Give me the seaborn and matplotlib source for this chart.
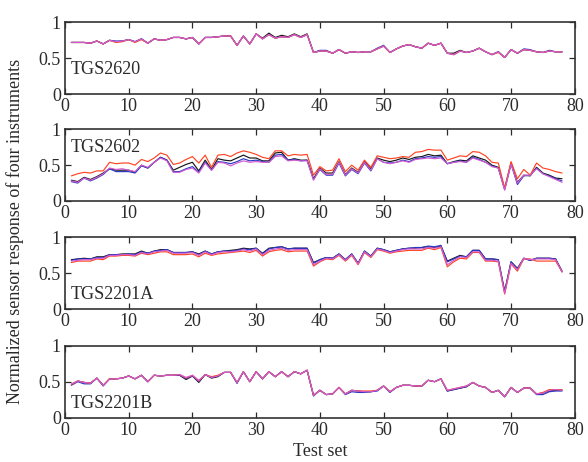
import matplotlib
matplotlib.use("Agg")
import matplotlib.pyplot as plt
import pandas as pd
import seaborn as sns

# Test set index (x axis)
test_set = list(range(1, 79))

sensors = ["TGS2620", "TGS2602", "TGS2201A", "TGS2201B"]
instruments = ["Instrument 1", "Instrument 2", "Instrument 3", "Instrument 4"]
line_colors = ["#161616", "#2b36c4", "#ff4422", "#d25ccf"]

# ---- TGS2620 ----
tgs2620_inst1 = [0.72, 0.72, 0.72, 0.71, 0.74, 0.70, 0.75, 0.73, 0.74, 0.76,
                 0.73, 0.77, 0.71, 0.77, 0.75, 0.76, 0.79, 0.79, 0.77, 0.79,
                 0.70, 0.79, 0.79, 0.80, 0.81, 0.81, 0.68, 0.81, 0.70, 0.84,
                 0.78, 0.85, 0.79, 0.82, 0.80, 0.84, 0.80, 0.84, 0.58, 0.60,
                 0.60, 0.57, 0.62, 0.57, 0.59, 0.58, 0.59, 0.59, 0.63, 0.67,
                 0.58, 0.63, 0.67, 0.69, 0.66, 0.64, 0.71, 0.68, 0.71, 0.57,
                 0.57, 0.61, 0.58, 0.60, 0.64, 0.59, 0.55, 0.59, 0.51, 0.62,
                 0.57, 0.62, 0.61, 0.59, 0.58, 0.60, 0.59, 0.59]
tgs2620_inst2 = [0.72, 0.72, 0.72, 0.71, 0.74, 0.70, 0.75, 0.74, 0.74, 0.76,
                 0.73, 0.77, 0.71, 0.77, 0.75, 0.76, 0.79, 0.79, 0.77, 0.79,
                 0.70, 0.79, 0.79, 0.80, 0.81, 0.81, 0.68, 0.81, 0.70, 0.84,
                 0.77, 0.83, 0.78, 0.80, 0.79, 0.83, 0.79, 0.83, 0.58, 0.61,
                 0.61, 0.57, 0.62, 0.57, 0.59, 0.58, 0.59, 0.59, 0.64, 0.68,
                 0.58, 0.63, 0.67, 0.69, 0.66, 0.64, 0.71, 0.68, 0.71, 0.57,
                 0.55, 0.60, 0.58, 0.60, 0.64, 0.59, 0.55, 0.59, 0.51, 0.62,
                 0.57, 0.63, 0.62, 0.59, 0.58, 0.61, 0.59, 0.59]
tgs2620_inst3 = [0.72, 0.72, 0.72, 0.71, 0.74, 0.70, 0.75, 0.72, 0.73, 0.76,
                 0.72, 0.76, 0.71, 0.77, 0.75, 0.76, 0.79, 0.79, 0.77, 0.79,
                 0.70, 0.79, 0.79, 0.80, 0.81, 0.81, 0.68, 0.81, 0.70, 0.84,
                 0.77, 0.83, 0.78, 0.80, 0.79, 0.83, 0.79, 0.83, 0.58, 0.60,
                 0.60, 0.57, 0.62, 0.57, 0.59, 0.58, 0.59, 0.59, 0.63, 0.67,
                 0.58, 0.63, 0.67, 0.69, 0.66, 0.64, 0.71, 0.68, 0.71, 0.57,
                 0.55, 0.60, 0.58, 0.60, 0.64, 0.59, 0.55, 0.58, 0.51, 0.62,
                 0.57, 0.62, 0.61, 0.59, 0.58, 0.60, 0.59, 0.59]
tgs2620_inst4 = [0.72, 0.72, 0.72, 0.71, 0.74, 0.70, 0.75, 0.73, 0.74, 0.76,
                 0.73, 0.77, 0.71, 0.77, 0.75, 0.76, 0.79, 0.79, 0.77, 0.79,
                 0.70, 0.79, 0.79, 0.80, 0.81, 0.81, 0.68, 0.81, 0.70, 0.84,
                 0.77, 0.83, 0.78, 0.80, 0.79, 0.83, 0.79, 0.83, 0.58, 0.60,
                 0.60, 0.57, 0.62, 0.57, 0.59, 0.58, 0.59, 0.59, 0.63, 0.67,
                 0.58, 0.63, 0.67, 0.69, 0.66, 0.64, 0.71, 0.68, 0.71, 0.57,
                 0.55, 0.60, 0.58, 0.60, 0.64, 0.59, 0.55, 0.59, 0.51, 0.62,
                 0.57, 0.62, 0.61, 0.59, 0.58, 0.60, 0.59, 0.59]

# ---- TGS2602 ----
tgs2602_inst1 = [0.29, 0.27, 0.33, 0.30, 0.34, 0.39, 0.45, 0.43, 0.43, 0.43,
                 0.40, 0.50, 0.46, 0.54, 0.61, 0.57, 0.43, 0.47, 0.51, 0.54,
                 0.42, 0.57, 0.44, 0.59, 0.57, 0.56, 0.60, 0.64, 0.60, 0.60,
                 0.56, 0.56, 0.67, 0.68, 0.57, 0.59, 0.57, 0.57, 0.31, 0.46,
                 0.39, 0.39, 0.55, 0.37, 0.46, 0.40, 0.55, 0.45, 0.60, 0.57,
                 0.55, 0.57, 0.60, 0.58, 0.61, 0.62, 0.65, 0.63, 0.64, 0.52,
                 0.55, 0.57, 0.56, 0.63, 0.60, 0.57, 0.50, 0.47, 0.17, 0.53,
                 0.26, 0.36, 0.35, 0.47, 0.39, 0.36, 0.32, 0.31]
tgs2602_inst2 = [0.27, 0.25, 0.32, 0.28, 0.32, 0.37, 0.45, 0.41, 0.41, 0.41,
                 0.39, 0.49, 0.46, 0.54, 0.61, 0.57, 0.41, 0.41, 0.45, 0.48,
                 0.40, 0.54, 0.43, 0.55, 0.54, 0.52, 0.55, 0.59, 0.56, 0.57,
                 0.55, 0.54, 0.64, 0.65, 0.57, 0.58, 0.56, 0.57, 0.30, 0.44,
                 0.36, 0.36, 0.53, 0.35, 0.44, 0.38, 0.53, 0.42, 0.59, 0.54,
                 0.53, 0.54, 0.57, 0.55, 0.59, 0.60, 0.62, 0.61, 0.62, 0.52,
                 0.54, 0.56, 0.54, 0.61, 0.58, 0.54, 0.49, 0.46, 0.16, 0.52,
                 0.23, 0.35, 0.36, 0.46, 0.38, 0.35, 0.31, 0.28]
tgs2602_inst3 = [0.35, 0.38, 0.40, 0.39, 0.42, 0.42, 0.54, 0.52, 0.53, 0.53,
                 0.50, 0.58, 0.55, 0.60, 0.67, 0.64, 0.51, 0.53, 0.58, 0.62,
                 0.53, 0.64, 0.47, 0.64, 0.65, 0.62, 0.67, 0.70, 0.68, 0.65,
                 0.61, 0.59, 0.70, 0.70, 0.63, 0.65, 0.64, 0.65, 0.36, 0.48,
                 0.42, 0.43, 0.59, 0.41, 0.50, 0.43, 0.57, 0.47, 0.63, 0.61,
                 0.59, 0.60, 0.62, 0.61, 0.68, 0.69, 0.72, 0.71, 0.71, 0.57,
                 0.60, 0.63, 0.62, 0.69, 0.68, 0.63, 0.54, 0.53, 0.18, 0.55,
                 0.31, 0.44, 0.36, 0.53, 0.46, 0.44, 0.41, 0.39]
tgs2602_inst4 = [0.28, 0.26, 0.32, 0.29, 0.33, 0.38, 0.46, 0.44, 0.45, 0.43,
                 0.41, 0.50, 0.47, 0.54, 0.60, 0.56, 0.40, 0.40, 0.44, 0.46,
                 0.39, 0.53, 0.43, 0.54, 0.53, 0.49, 0.53, 0.56, 0.54, 0.55,
                 0.54, 0.54, 0.62, 0.63, 0.56, 0.57, 0.56, 0.56, 0.29, 0.45,
                 0.37, 0.37, 0.54, 0.36, 0.45, 0.39, 0.54, 0.43, 0.59, 0.54,
                 0.52, 0.54, 0.56, 0.54, 0.58, 0.59, 0.60, 0.59, 0.60, 0.52,
                 0.54, 0.55, 0.54, 0.60, 0.57, 0.54, 0.48, 0.46, 0.15, 0.51,
                 0.25, 0.36, 0.36, 0.45, 0.38, 0.34, 0.30, 0.26]

# ---- TGS2201A ----
tgs2201a_inst1 = [0.69, 0.70, 0.71, 0.70, 0.73, 0.73, 0.76, 0.76, 0.77, 0.77,
                  0.77, 0.81, 0.78, 0.81, 0.83, 0.83, 0.79, 0.79, 0.79, 0.80,
                  0.77, 0.81, 0.77, 0.80, 0.81, 0.82, 0.83, 0.85, 0.84, 0.85,
                  0.78, 0.85, 0.86, 0.87, 0.84, 0.85, 0.85, 0.85, 0.65, 0.69,
                  0.72, 0.71, 0.77, 0.69, 0.77, 0.64, 0.81, 0.74, 0.85, 0.83,
                  0.80, 0.82, 0.84, 0.85, 0.85, 0.86, 0.87, 0.86, 0.88, 0.67,
                  0.71, 0.75, 0.73, 0.82, 0.82, 0.70, 0.70, 0.69, 0.25, 0.66,
                  0.57, 0.71, 0.68, 0.71, 0.71, 0.71, 0.70, 0.53]
tgs2201a_inst2 = [0.68, 0.70, 0.70, 0.70, 0.72, 0.72, 0.76, 0.76, 0.76, 0.77,
                  0.76, 0.80, 0.78, 0.81, 0.82, 0.83, 0.79, 0.79, 0.79, 0.80,
                  0.76, 0.81, 0.77, 0.80, 0.81, 0.81, 0.82, 0.84, 0.83, 0.85,
                  0.77, 0.84, 0.86, 0.87, 0.84, 0.85, 0.85, 0.85, 0.64, 0.69,
                  0.72, 0.71, 0.77, 0.69, 0.77, 0.64, 0.81, 0.74, 0.85, 0.83,
                  0.80, 0.82, 0.84, 0.85, 0.86, 0.86, 0.88, 0.87, 0.89, 0.66,
                  0.70, 0.74, 0.73, 0.82, 0.82, 0.70, 0.70, 0.69, 0.24, 0.66,
                  0.56, 0.71, 0.68, 0.71, 0.71, 0.71, 0.70, 0.52]
tgs2201a_inst3 = [0.65, 0.67, 0.67, 0.67, 0.70, 0.69, 0.74, 0.74, 0.75, 0.75,
                  0.74, 0.78, 0.76, 0.78, 0.80, 0.80, 0.76, 0.76, 0.76, 0.77,
                  0.73, 0.78, 0.75, 0.77, 0.78, 0.79, 0.80, 0.81, 0.79, 0.82,
                  0.74, 0.80, 0.82, 0.83, 0.80, 0.81, 0.81, 0.81, 0.60, 0.66,
                  0.70, 0.69, 0.75, 0.67, 0.75, 0.62, 0.79, 0.72, 0.83, 0.81,
                  0.78, 0.80, 0.81, 0.82, 0.82, 0.82, 0.85, 0.83, 0.86, 0.59,
                  0.66, 0.71, 0.70, 0.79, 0.79, 0.67, 0.67, 0.66, 0.21, 0.63,
                  0.53, 0.70, 0.70, 0.67, 0.67, 0.67, 0.67, 0.52]
tgs2201a_inst4 = [0.67, 0.68, 0.69, 0.69, 0.71, 0.71, 0.75, 0.75, 0.76, 0.76,
                  0.75, 0.79, 0.77, 0.80, 0.81, 0.82, 0.78, 0.78, 0.78, 0.79,
                  0.75, 0.80, 0.76, 0.79, 0.80, 0.80, 0.81, 0.83, 0.81, 0.84,
                  0.76, 0.82, 0.84, 0.85, 0.82, 0.83, 0.83, 0.83, 0.62, 0.67,
                  0.71, 0.70, 0.76, 0.68, 0.76, 0.63, 0.80, 0.73, 0.84, 0.82,
                  0.79, 0.81, 0.83, 0.84, 0.84, 0.84, 0.86, 0.85, 0.87, 0.62,
                  0.68, 0.73, 0.72, 0.80, 0.80, 0.68, 0.68, 0.67, 0.22, 0.64,
                  0.55, 0.71, 0.69, 0.70, 0.70, 0.70, 0.69, 0.52]

# ---- TGS2201B ----
tgs2201b_inst1 = [0.46, 0.51, 0.49, 0.48, 0.55, 0.45, 0.54, 0.54, 0.55, 0.58,
                  0.54, 0.59, 0.50, 0.59, 0.58, 0.59, 0.59, 0.59, 0.53, 0.58,
                  0.49, 0.60, 0.55, 0.57, 0.63, 0.63, 0.48, 0.64, 0.50, 0.64,
                  0.54, 0.64, 0.57, 0.64, 0.57, 0.64, 0.61, 0.66, 0.31, 0.38,
                  0.32, 0.33, 0.42, 0.33, 0.38, 0.37, 0.36, 0.36, 0.38, 0.44,
                  0.36, 0.42, 0.45, 0.45, 0.44, 0.44, 0.52, 0.50, 0.54, 0.37,
                  0.39, 0.41, 0.43, 0.49, 0.44, 0.42, 0.35, 0.38, 0.29, 0.42,
                  0.35, 0.41, 0.41, 0.33, 0.34, 0.37, 0.38, 0.38]
tgs2201b_inst2 = [0.45, 0.50, 0.47, 0.47, 0.55, 0.44, 0.54, 0.54, 0.55, 0.58,
                  0.54, 0.59, 0.50, 0.59, 0.58, 0.59, 0.59, 0.59, 0.54, 0.58,
                  0.50, 0.60, 0.56, 0.58, 0.63, 0.63, 0.48, 0.64, 0.50, 0.64,
                  0.54, 0.64, 0.57, 0.64, 0.57, 0.64, 0.61, 0.66, 0.30, 0.38,
                  0.32, 0.33, 0.42, 0.32, 0.36, 0.35, 0.35, 0.36, 0.37, 0.44,
                  0.35, 0.42, 0.45, 0.45, 0.44, 0.44, 0.52, 0.50, 0.54, 0.37,
                  0.39, 0.41, 0.43, 0.49, 0.44, 0.42, 0.35, 0.38, 0.29, 0.42,
                  0.35, 0.41, 0.41, 0.32, 0.32, 0.36, 0.37, 0.37]
tgs2201b_inst3 = [0.46, 0.51, 0.49, 0.48, 0.55, 0.45, 0.54, 0.54, 0.55, 0.58,
                  0.54, 0.59, 0.50, 0.59, 0.58, 0.59, 0.59, 0.60, 0.55, 0.59,
                  0.51, 0.60, 0.57, 0.59, 0.63, 0.63, 0.49, 0.64, 0.50, 0.64,
                  0.54, 0.64, 0.57, 0.64, 0.57, 0.64, 0.61, 0.66, 0.31, 0.38,
                  0.32, 0.33, 0.42, 0.33, 0.38, 0.37, 0.37, 0.37, 0.38, 0.44,
                  0.36, 0.42, 0.45, 0.45, 0.44, 0.44, 0.52, 0.50, 0.54, 0.38,
                  0.40, 0.42, 0.44, 0.49, 0.44, 0.42, 0.35, 0.38, 0.29, 0.42,
                  0.35, 0.41, 0.41, 0.33, 0.35, 0.39, 0.39, 0.39]
tgs2201b_inst4 = [0.47, 0.51, 0.49, 0.48, 0.55, 0.45, 0.54, 0.54, 0.55, 0.58,
                  0.54, 0.59, 0.50, 0.59, 0.58, 0.59, 0.59, 0.60, 0.56, 0.59,
                  0.52, 0.60, 0.56, 0.58, 0.63, 0.63, 0.49, 0.64, 0.50, 0.64,
                  0.54, 0.64, 0.57, 0.64, 0.57, 0.64, 0.61, 0.66, 0.31, 0.38,
                  0.32, 0.33, 0.42, 0.33, 0.38, 0.37, 0.36, 0.36, 0.38, 0.44,
                  0.36, 0.42, 0.45, 0.45, 0.44, 0.44, 0.52, 0.50, 0.54, 0.38,
                  0.40, 0.42, 0.44, 0.49, 0.44, 0.42, 0.35, 0.38, 0.29, 0.42,
                  0.35, 0.41, 0.41, 0.33, 0.34, 0.38, 0.39, 0.38]

panel_series = {
    "TGS2620": [tgs2620_inst1, tgs2620_inst2, tgs2620_inst3, tgs2620_inst4],
    "TGS2602": [tgs2602_inst1, tgs2602_inst2, tgs2602_inst3, tgs2602_inst4],
    "TGS2201A": [tgs2201a_inst1, tgs2201a_inst2, tgs2201a_inst3, tgs2201a_inst4],
    "TGS2201B": [tgs2201b_inst1, tgs2201b_inst2, tgs2201b_inst3, tgs2201b_inst4],
}

x_ticks = [0, 10, 20, 30, 40, 50, 60, 70, 80]
y_ticks = [0, 0.5, 1]
y_tick_labels = ["0", "0.5", "1"]

# Sensor-name label position inside each panel (axes fraction)
label_y = {"TGS2620": 0.34, "TGS2602": 0.74, "TGS2201A": 0.20, "TGS2201B": 0.19}

sns.set_theme(style="ticks")
plt.rcParams["font.family"] = ["Liberation Serif", "DejaVu Serif"]

text_color = "#2a2a2a"

fig = plt.figure(figsize=(5.88, 4.62), dpi=100)
panel_bottoms = [0.7965, 0.5650, 0.3310, 0.0963]
panel_left, panel_width, panel_height = 0.1105, 0.867, 0.155

for sensor, bottom in zip(sensors, panel_bottoms):
    ax = fig.add_axes([panel_left, bottom, panel_width, panel_height])
    rows = []
    for inst, values in zip(instruments, panel_series[sensor]):
        for x, v in zip(test_set, values):
            rows.append({"Test set": x, "Response": v, "Instrument": inst})
    df = pd.DataFrame(rows)
    sns.lineplot(data=df, x="Test set", y="Response", hue="Instrument",
                 hue_order=instruments, palette=line_colors, linewidth=0.85,
                 legend=False, ax=ax)
    ax.set_xlim(0, 80)
    ax.set_ylim(0, 1)
    ax.set_xticks(x_ticks)
    ax.set_yticks(y_ticks)
    ax.set_yticklabels(y_tick_labels)
    ax.set_xlabel("")
    ax.set_ylabel("")
    ax.tick_params(direction="in", top=True, right=True, length=4, width=0.9,
                   labelsize=13, colors=text_color, pad=3)
    for sp in ax.spines.values():
        sp.set_linewidth(1.2)
        sp.set_color("#333333")
    ax.text(0.012, label_y[sensor], sensor, transform=ax.transAxes,
            ha="left", va="center", fontsize=13, color=text_color)

fig.text(0.026, 0.50, "Normalized sensor response of four instruments",
         rotation=90, ha="center", va="center", fontsize=13, color=text_color)
fig.text(320 / 588, 1 - 452 / 462, "Test set", ha="center", va="center",
         fontsize=13, color=text_color)

fig.savefig("out.png", dpi=100)
